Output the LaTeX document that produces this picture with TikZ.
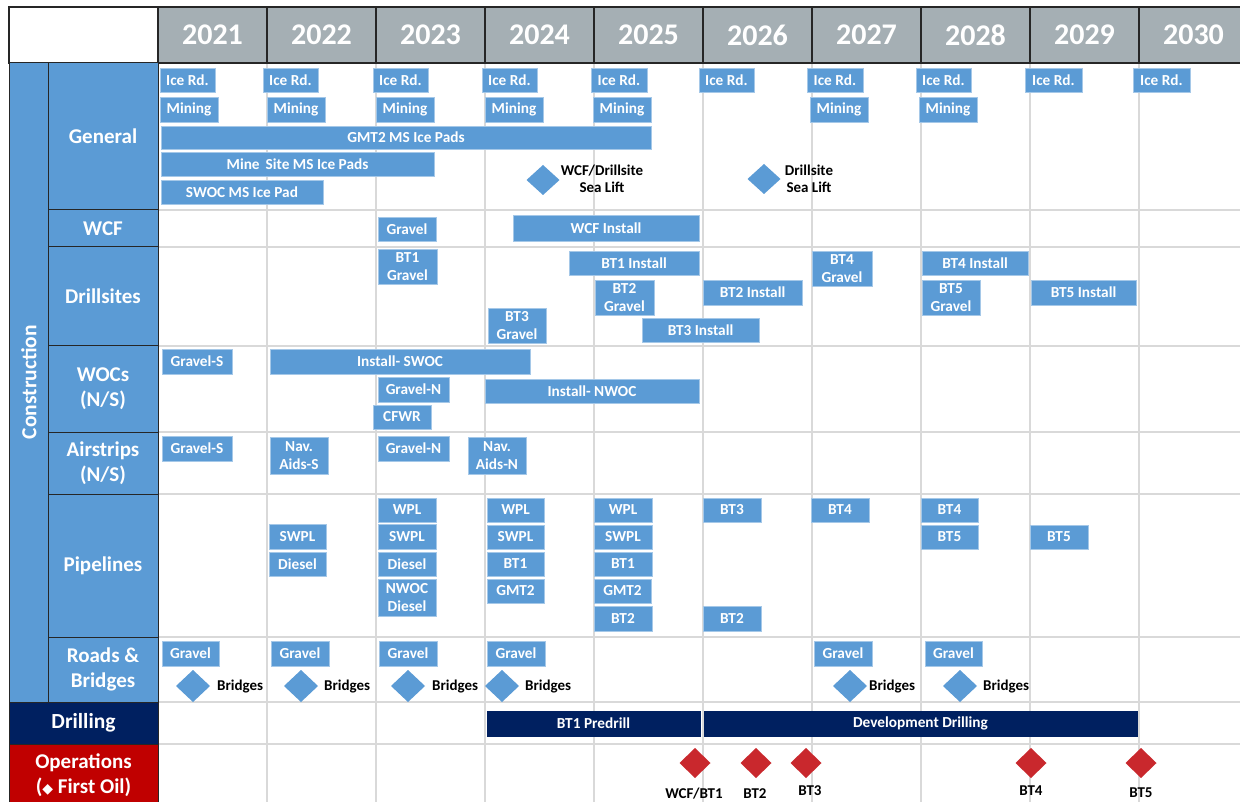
\documentclass[tikz,border=0pt]{standalone}
\usepackage{fontspec}
\setmainfont{Carlito}
\newfontfamily\symfont{DejaVu Sans}
\usetikzlibrary{shapes.geometric}
\definecolor{barblue}{HTML}{5B9BD5}
\definecolor{hdrgray}{HTML}{A5AFB4}
\definecolor{gridgray}{HTML}{D9D9D9}
\definecolor{navy}{HTML}{002060}
\definecolor{opred}{HTML}{C00000}
\definecolor{msred}{HTML}{C9282D}
\definecolor{rulecol}{HTML}{262626}

% task bar given by its pixel corners: name, x1, y1, x2, y2, text
\newcommand\task[6]{%
  \node[taskbox, minimum width={(#4-#2)*1pt}, minimum height={(#5-#3)*1pt}]
    (#1) at ({(#2+#4)/2},{(#3+#5)/2}) {#6};}
% category cell in the second column: name, y1, y2, text
\newcommand\category[4]{%
  \node[catbox, minimum height={(#3-#2)*1pt}] (#1) at (103,{(#2+#3)/2}) {#4};}

\tikzset{
  taskbox/.style={fill=barblue, draw=barblue!55!white, line width=0.7pt,
    inner sep=0pt, outer sep=0pt, text=white, align=center,
    font=\fontsize{15.3}{18.5}\selectfont\bfseries},
  catbox/.style={fill=barblue, draw=rulecol, line width=1pt, minimum width=110pt,
    inner sep=0pt, outer sep=0pt, text=white, align=center,
    font=\fontsize{21}{25}\selectfont\bfseries},
  yearcell/.style={fill=hdrgray, draw=rulecol, line width=1.2pt, minimum width=109pt,
    minimum height=56pt, inner sep=0pt, outer sep=0pt, text=white,
    font=\fontsize{30}{32}\selectfont\bfseries},
  gridline/.style={draw=gridgray, line width=1.8pt},
  milestone/.style={diamond, fill=barblue, inner sep=0pt, outer sep=0pt},
  firstoil/.style={diamond, fill=msred, inner sep=0pt, outer sep=0pt,
    minimum width=31pt, minimum height=30pt},
  note/.style={text=black, align=center, inner sep=0pt,
    font=\fontsize{15}{17}\selectfont\bfseries},
}

\begin{document}
\begin{tikzpicture}[x=1pt, y=-1pt]
\useasboundingbox (0,0) rectangle (1240,802);
\fill[white] (0,0) rectangle (1240,802);

% ---- grid of the timeline body
\foreach \x in {267,376,485,594,703,812,921,1030,1139}
  \draw[gridline] (\x,63) -- (\x,802);
\foreach \y in {210,247,346,432,494,637,702,744}
  \draw[gridline] (158,\y) -- (1240,\y);

% ---- header row
\node[draw=rulecol, line width=1.2pt, fill=white, minimum width=149pt,
  minimum height=56pt, inner sep=0pt, outer sep=0pt] (corner) at (83.5,35) {};
\foreach \yr [count=\i from 0] in {2021,...,2030}
  \node[yearcell] (y\yr) at ({158+109*\i+54.5},35) {\yr};

% ---- left hand categories
\node[fill=barblue, draw=rulecol, line width=1pt, minimum width=39pt,
  minimum height=639pt, inner sep=0pt, outer sep=0pt] (constr) at (28.5,382.5) {};
\node[rotate=90, text=white, font=\fontsize{21.5}{24}\selectfont\bfseries]
  (constrlabel) at (29,382) {Construction};
\category{cgen}{63}{210}{General}
\category{cwcf}{210}{247}{WCF}
\category{cdrill}{247}{346}{Drillsites}
\category{cwoc}{346}{432}{WOCs\\(N/S)}
\category{cair}{432}{494}{Airstrips\\(N/S)}
\category{cpipe}{494}{637}{Pipelines}
\category{croad}{637}{702}{Roads \&\\Bridges}
\node[fill=navy, draw=rulecol, line width=1pt, minimum width=149pt, minimum height=42pt,
  inner sep=0pt, outer sep=0pt, text=white, font=\fontsize{21.5}{24}\selectfont\bfseries]
  (cdrilling) at (83.5,723) {Drilling};
\node[fill=opred, draw=rulecol, line width=1pt, minimum width=149pt, minimum height=62pt,
  inner sep=0pt, outer sep=0pt, text=white, align=center,
  font=\fontsize{21}{25}\selectfont\bfseries]
  (cops) at (83.5,775) {Operations\\({\symfont\fontsize{14}{16}\selectfont ◆} First Oil)};

% ---- General
\task{ir21}{160}{68}{215}{92}{Ice Rd.}
\task{ir22}{263}{68}{318}{92}{Ice Rd.}
\task{ir23}{373}{68}{428}{92}{Ice Rd.}
\task{ir24}{482}{68}{537}{92}{Ice Rd.}
\task{ir25}{591}{68}{647}{92}{Ice Rd.}
\task{ir26}{699}{68}{754}{92}{Ice Rd.}
\task{ir27}{807}{68}{863}{92}{Ice Rd.}
\task{ir28}{916}{68}{971}{92}{Ice Rd.}
\task{ir29}{1025}{68}{1082}{92}{Ice Rd.}
\task{ir30}{1133}{68}{1190}{92}{Ice Rd.}
\task{mn21}{160}{97}{218}{122}{Mining}
\task{mn22}{267}{97}{325}{122}{Mining}
\task{mn23}{376}{97}{434}{122}{Mining}
\task{mn24}{485}{97}{543}{122}{Mining}
\task{mn25}{593}{97}{651}{122}{Mining}
\task{mn27}{810}{97}{868}{122}{Mining}
\task{mn28}{919}{97}{977}{122}{Mining}
\task{gmtpads}{161}{126}{651}{149}{GMT2 MS Ice Pads}
\task{minepads}{161}{152}{434}{176}{Mine \,Site MS Ice Pads}
\task{swocpad}{161}{180}{323}{204}{SWOC MS Ice Pad}
\node[milestone, minimum width=33pt, minimum height=30pt] (sealift1) at (543,180) {};
\node[note] (sealift1t) at (602,179) {WCF/Drillsite\\Sea Lift};
\node[milestone, minimum width=33pt, minimum height=30pt] (sealift2) at (764,179) {};
\node[note] (sealift2t) at (809,179) {Drillsite\\Sea Lift};

% ---- WCF
\task{wgravel}{378}{217}{436}{241}{Gravel}
\task{winstall}{513}{215}{699}{241}{WCF Install}

% ---- Drillsites
\task{bt1g}{378}{249}{437}{284}{BT1\\Gravel}
\task{bt1i}{569}{251}{699}{275}{BT1 Install}
\task{bt2g}{595}{280}{654}{315}{BT2\\Gravel}
\task{bt2i}{703}{280}{802}{305}{BT2 Install}
\task{bt3g}{488}{308}{546}{343}{BT3\\Gravel}
\task{bt3i}{642}{318}{759}{342}{BT3 Install}
\task{bt4g}{812}{251}{872}{286}{BT4\\Gravel}
\task{bt4i}{922}{251}{1028}{275}{BT4 Install}
\task{bt5g}{922}{280}{980}{315}{BT5\\Gravel}
\task{bt5i}{1031}{280}{1136}{305}{BT5 Install}

% ---- WOCs
\task{wocgs}{162}{349}{232}{374}{Gravel-S}
\task{swoc}{270}{349}{530}{374}{Install- SWOC}
\task{wocgn}{378}{377}{449}{402}{Gravel-N}
\task{cfwr}{373}{405}{431}{429}{CFWR}
\task{nwoc}{485}{379}{699}{403}{Install- NWOC}

% ---- Airstrips
\task{airgs}{162}{436}{232}{461}{Gravel-S}
\task{navs}{270}{437}{328}{474}{Nav.\\Aids-S}
\task{airgn}{378}{436}{449}{461}{Gravel-N}
\task{navn}{468}{437}{526}{474}{Nav.\\Aids-N}

% ---- Pipelines
\task{p22a}{269}{524}{326}{549}{SWPL}
\task{p22b}{269}{552}{326}{576}{Diesel}
\task{p23a}{378}{498}{436}{522}{WPL}
\task{p23b}{378}{524}{436}{549}{SWPL}
\task{p23c}{378}{552}{436}{576}{Diesel}
\task{p23d}{378}{579}{436}{616}{NWOC\\Diesel}
\task{p24a}{487}{498}{544}{522}{WPL}
\task{p24b}{487}{525}{544}{549}{SWPL}
\task{p24c}{487}{552}{544}{576}{BT1}
\task{p24d}{487}{579}{544}{603}{GMT2}
\task{p25a}{594}{498}{652}{522}{WPL}
\task{p25b}{594}{525}{652}{549}{SWPL}
\task{p25c}{594}{552}{652}{576}{BT1}
\task{p25d}{594}{579}{651}{603}{GMT2}
\task{p25e}{594}{606}{652}{631}{BT2}
\task{p26a}{703}{498}{761}{522}{BT3}
\task{p26b}{703}{606}{761}{631}{BT2}
\task{p27a}{811}{498}{869}{522}{BT4}
\task{p28a}{921}{498}{978}{522}{BT4}
\task{p28b}{921}{525}{978}{549}{BT5}
\task{p29a}{1030}{525}{1088}{549}{BT5}

% ---- Roads & Bridges
\task{r21}{162}{641}{219}{666}{Gravel}
\task{r22}{271}{641}{329}{666}{Gravel}
\task{r23}{379}{641}{437}{666}{Gravel}
\task{r24}{487}{641}{545}{666}{Gravel}
\task{r27}{814}{641}{872}{666}{Gravel}
\task{r28}{925}{641}{982}{666}{Gravel}
\foreach \name/\dx/\tx in {b21/193/217, b22/301/324, b23/408/432, b24/502/525, b27/850/869, b28/960/983} {
  \node[milestone, minimum width=34pt, minimum height=32pt] (\name) at (\dx,686) {};
  \node[note, anchor=west] (\name t) at (\tx,687) {Bridges};
}

% ---- Drilling
\node[taskbox, fill=navy, draw=navy, minimum width=213pt, minimum height=25pt]
  (predrill) at (593.5,723.5) {BT1 Predrill};
\node[taskbox, fill=navy, draw=navy, minimum width=433pt, minimum height=25pt]
  (devdrill) at (920.5,723.5) {Development Drilling};

% ---- Operations (first oil)
\foreach \name/\dx in {fo1/695, fo2/756, fo3/806, fo4/1031, fo5/1141}
  \node[firstoil] (\name) at (\dx,763) {};
\node[note] (fo1t) at (694,794) {WCF/BT1};
\node[note] (fo2t) at (755,794) {BT2};
\node[note] (fo3t) at (810,791) {BT3};
\node[note] (fo4t) at (1031,791) {BT4};
\node[note] (fo5t) at (1141,793) {BT5};
\end{tikzpicture}
\end{document}
